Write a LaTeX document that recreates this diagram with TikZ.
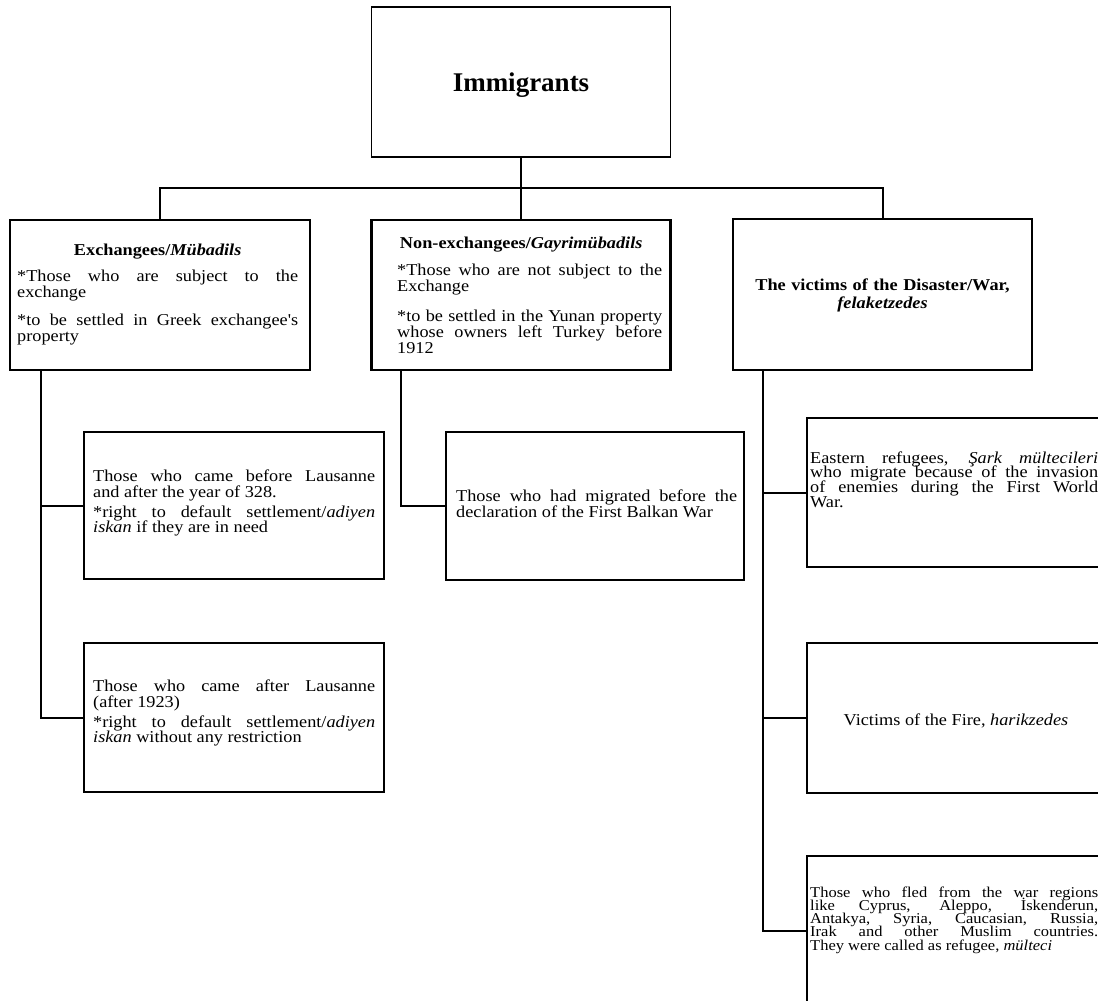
\documentclass[tikz,border=0pt]{standalone}
\usepackage{fontspec}
\setmainfont{Liberation Serif}[Ligatures=TeXOff, FakeStretch=1.1]
\newfontfamily\plainserif{Liberation Serif}
\newcommand\bfnt[2]{\fontsize{#1}{#2}\selectfont\lineskiplimit=-60pt\lineskip=0pt\relax}
\newcommand\ctitle[2]{\hspace*{\fill}\textbf{#1}\hspace*{\fill}\hspace*{#2}\par}
\begin{document}
\begin{tikzpicture}[x=1pt,y=-1pt,
  box/.style={draw=black,line width=2.5pt,inner sep=0pt},
  conn/.style={draw=black,line width=2pt},
  txt/.style={inner sep=0pt,align=justify,anchor=base west},
]
\useasboundingbox (0,0) rectangle (1098,1001);
\clip (0,0) rectangle (1098,1001);
\fill[white] (0,0) rectangle (1098,1001);

% boxes
\node[box,line width=1.8pt,minimum width=299pt,minimum height=150pt,text height=18pt,text depth=0pt,font={\plainserif\bfnt{27pt}{27pt}\bfseries}] (imm) at (521,82) {Immigrants};
\node[box,minimum width=300pt,minimum height=150pt] (ex) at (160,295) {};
\node[box,minimum width=299pt,minimum height=150pt] (nx) at (521,295) {};
\node[box,minimum width=299pt,minimum height=151pt] (vic) at (882.5,294.5) {};
\node[box,minimum width=300pt,minimum height=147pt] (c1) at (234,505.5) {};
\node[box,minimum width=300pt,minimum height=149pt] (c2) at (234,717.5) {};
\node[box,minimum width=298pt,minimum height=148pt] (n1) at (595,506) {};
\node[box,minimum width=300pt,minimum height=149pt] (v1) at (957,492.5) {};
\node[box,minimum width=300pt,minimum height=150pt] (v2) at (957,718) {};
\node[box,minimum width=300pt,minimum height=150pt] (v3) at (957,931) {};

% texts
\node[txt,text width=281pt,font={\bfnt{16.6pt}{16pt}}] (ext) at (17,255)
 {\ctitle{Exchangees/\textit{Mübadils}}{0pt}\vspace{10pt}*Those who are subject to the\linebreak exchange\par\vspace{12pt}*to be settled in Greek exchangee's\linebreak property};
\node[txt,text width=265pt,font={\bfnt{16.6pt}{16pt}}] (nxt) at (397,248)
 {\ctitle{Non-exchangees/\textit{Gayrimübadils}}{17pt}\vspace{11pt}*Those who are not subject to the\linebreak Exchange\par\vspace{14pt}*to be settled in the Yunan property\linebreak whose owners left Turkey before\linebreak 1912};
\node[inner sep=0pt,text width=295pt,align=center,anchor=base,font={\bfnt{16.6pt}{18pt}\bfseries}] (vict) at (882.5,290)
 {The victims of the Disaster/War,\\\textit{felaketzedes}};
\node[txt,text width=282pt,font={\bfnt{16.6pt}{15.5pt}}] (c1t) at (93,481.7)
 {Those who came before Lausanne\linebreak and after the year of 328.\par\vspace{4.5pt}*right to default settlement/\textit{adiyen}\linebreak \textit{iskan} if they are in need};
\node[txt,text width=282pt,font={\bfnt{16.6pt}{15.5pt}}] (c2t) at (93,691.7)
 {Those who came after Lausanne\linebreak (after 1923)\par\vspace{4.5pt}*right to default settlement/\textit{adiyen}\linebreak \textit{iskan} without any restriction};
\node[txt,text width=281pt,font={\bfnt{16.6pt}{15.6pt}}] (n1t) at (456,501.7)
 {Those who had migrated before the\linebreak declaration of the First Balkan War};
\node[txt,text width=288pt,font={\bfnt{16.6pt}{14.7pt}}] (v1t) at (810,463)
 {Eastern refugees, \textit{Şark mültecileri}\linebreak who migrate because of the invasion\linebreak of enemies during the First World\linebreak War.};
\node[inner sep=0pt,anchor=base,font={\bfnt{16.6pt}{18pt}}] (v2t) at (956,725)
 {Victims of the Fire, \textit{harikzedes}};
\node[txt,text width=288pt,font={\bfnt{15pt}{13.3pt}}] (v3t) at (810,897)
 {Those who fled from the war regions\linebreak like Cyprus, Aleppo, İskenderun,\linebreak Antakya, Syria, Caucasian, Russia,\linebreak Irak and other Muslim countries.\linebreak They were called as refugee, \textit{mülteci}};

% connectors
\coordinate (bar) at (521,188);
\draw[conn] (ex.north) |- (bar) -| (vic.north);
\draw[conn] (imm.south) -- (nx.north);
\coordinate (exs) at (41,370);
\coordinate (nxs) at (401,370);
\coordinate (vs) at (763,370);
\draw[conn] (exs) |- (c1.west);
\draw[conn] (exs) |- (c2.west);
\draw[conn] (nxs) |- (n1.west);
\draw[conn] (vs) |- (v1.west);
\draw[conn] (vs) |- (v2.west);
\draw[conn] (vs) |- (v3.west);
\end{tikzpicture}
\end{document}
